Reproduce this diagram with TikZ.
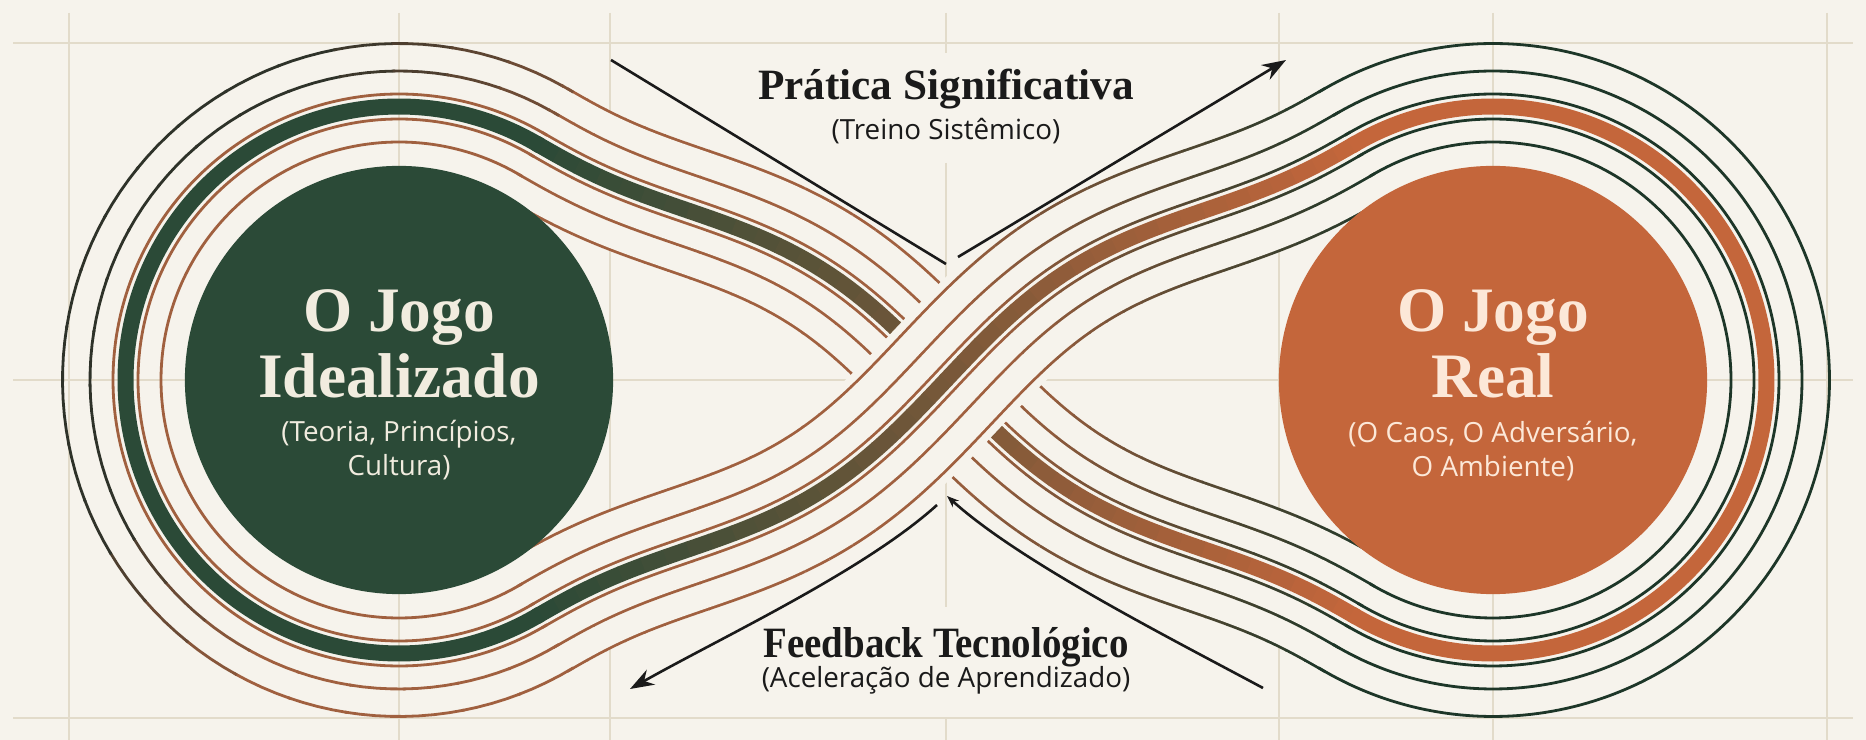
\documentclass[tikz,border=0pt]{standalone}
\usepackage{fontspec}
\setmainfont{Liberation Serif}
\newfontfamily\subfont{Open Sans}
\usetikzlibrary{arrows.meta}

\definecolor{bg}{HTML}{F6F3EC}
\definecolor{gridc}{HTML}{E2DBCA}
\definecolor{greenC}{HTML}{2B4A37}
\definecolor{orangeC}{HTML}{C4663B}
\definecolor{copperC}{HTML}{A0603F}
\definecolor{darkL}{HTML}{2E3229}
\definecolor{darkG}{HTML}{1D3628}
\definecolor{inkC}{HTML}{1A1A1A}
\definecolor{creamT}{HTML}{F1ECDF}
\definecolor{peachT}{HTML}{FCE8D8}

\tikzset{
  gridline/.style={draw=gridc, line width=0.02cm},
  inkline/.style={draw=inkC, line width=0.026cm},
  tiphead/.style={-{Stealth[length=0.24cm,width=0.17cm]}},
  smallhead/.style={-{Stealth[length=0.12cm,width=0.09cm]}},
  titletext/.style={font=\fontsize{12.3}{14}\selectfont\bfseries, text=inkC, inner sep=0pt, anchor=base},
  subtext/.style={font=\subfont\fontsize{7.9}{9}\selectfont, text=inkC, inner sep=0pt, anchor=base},
  circtitle/.style={font=\fontsize{18}{20}\selectfont\bfseries, inner sep=0pt, anchor=base},
  circsub/.style={font=\subfont\fontsize{7.9}{9}\selectfont, inner sep=0pt, anchor=base},
  bigcircle/.style={circle, minimum size=4.28cm, inner sep=0pt, draw=none},
}

% S-shaped crossing: normal displacement w(u) of the 30 degree line
\pgfmathdeclarefunction{vfun}{1}{\pgfmathparse{(#1/473.7)*(#1/473.7)}}
\pgfmathdeclarefunction{wfun}{1}{\pgfmathparse{0.3*#1*(1-vfun(#1))*(1-vfun(#1))*(1-vfun(#1))}}

% widths of the stacked strokes (px/100 = cm)
\def\wa{1.288cm}\def\wab{1.232cm}
\def\wb{0.738cm}\def\wbb{0.682cm}
\def\wc{0.278cm}\def\wcb{0.222cm}
\def\wband{0.16cm}
\def\thinw{0.028cm}

% crossing strand, one layer with colour gradient (#1 sign, #2 width, #3 start, #4 end)
\newcommand{\strandline}[4]{%
  \foreach \k in {0,...,39}{%
    \pgfmathsetmacro{\ua}{-473.7+23.685*\k}%
    \pgfmathsetmacro{\ub}{\ua+24.4}%
    \pgfmathtruncatemacro{\mixb}{max(0,min(100,100*((\k+0.5)/40-0.55)/0.45))}%
    \draw[line width=#2, draw=#4!\mixb!#3] plot[domain=\ua:\ub, samples=5]
      ({946+0.866*\x-0.5*wfun(\x)},{380+(#1)*(0.5*\x+0.866*wfun(\x))});
  }%
}
\newcommand{\strandband}[2]{%
  \foreach \k in {0,...,39}{%
    \pgfmathsetmacro{\ua}{-473.7+23.685*\k}%
    \pgfmathsetmacro{\ub}{\ua+24.4}%
    \pgfmathtruncatemacro{\mixa}{round(100*(\k+0.5)/40)}%
    \draw[line width=#2, draw=orangeC!\mixa!greenC] plot[domain=\ua:\ub, samples=5]
      ({946+0.866*\x-0.5*wfun(\x)},{380+(#1)*(0.5*\x+0.866*wfun(\x))});
  }%
}
\newcommand{\strandbg}[2]{%
  \draw[draw=bg, line width=#2] plot[domain=-476:476, samples=121]
    ({946+0.866*\x-0.5*wfun(\x)},{380+(#1)*(0.5*\x+0.866*wfun(\x))});
}
\newcommand{\strandall}[1]{%
  \strandline{#1}{\wa}{copperC}{darkG}%
  \strandbg{#1}{\wab}%
  \strandline{#1}{\wb}{copperC}{darkG}%
  \strandbg{#1}{\wbb}%
  \strandline{#1}{\wc}{copperC}{darkG}%
  \strandbg{#1}{\wcb}%
  \strandband{#1}{\wband}%
}
% one circular line of a loop: #1 centre x, #2 radius, #3 start, #4 end, #5 width, #6 colour
\newcommand{\loopline}[6]{%
  \draw[line width=#5, draw=#6] plot[domain=#3:#4, samples=200]
    ({#1+(#2)*cos(\x)},{380+(#2)*sin(\x)});
}

\begin{document}
\begin{tikzpicture}[x=0.01cm,y=-0.01cm]
\useasboundingbox (0,0) rectangle (1866,740);
\fill[bg] (0,0) rectangle (1866,740);

% grid
\foreach \gx in {69,399,610,1279,1493,1827}{\draw[gridline] (\gx,13) -- (\gx,740);}
\draw[gridline] (946,13) -- (946,53) (946,163) -- (946,607) (946,718) -- (946,740);
\foreach \gy in {43,380,718}{\draw[gridline] (13,\gy) -- (1853,\gy);}

% under strand (upper left to lower right)
\strandall{1}
% knockout for the over strand
\draw[draw=bg, line width=1.44cm] plot[domain=-200:200, samples=41]
  ({946+0.866*\x-0.5*wfun(\x)},{380-(0.5*\x+0.866*wfun(\x))});
% over strand (lower left to upper right)
\strandall{-1}

% left loop
\loopline{399}{261}{58.8}{301.2}{\thinw}{copperC}
\loopline{399}{238}{58.8}{301.2}{\thinw}{copperC}
\loopline{399}{210.5}{58.8}{301.2}{\thinw}{copperC}
\loopline{399}{286}{58.8}{301.2}{\thinw}{copperC}
\loopline{399}{273.5}{58.8}{301.2}{\wband}{greenC}
\foreach \th in {58.8,68.8,...,298.8}{%
  \pgfmathtruncatemacro{\mm}{max(0,min(100,min((\th-110)*2.5,100-(\th-250)*1.4)))}%
  \pgfmathsetmacro{\thb}{min(\th+10.5,301.2)}%
  \draw[line width=\thinw, draw=darkL!\mm!copperC] plot[domain=\th:\thb, samples=5]
    ({399+336.5*cos(\x)},{380+336.5*sin(\x)});
  \draw[line width=\thinw, draw=darkL!\mm!copperC] plot[domain=\th:\thb, samples=5]
    ({399+309*cos(\x)},{380+309*sin(\x)});
}
% right loop
\foreach \rr in {210.5,238,261,286,309,336.5}{%
  \loopline{1493}{\rr}{-121.2}{121.2}{\thinw}{darkG}
}
\loopline{1493}{273.5}{-121.2}{121.2}{\wband}{orangeC}

% circles
\node[bigcircle, fill=greenC] (ideal) at (399,380) {};
\node[bigcircle, fill=orangeC] (real) at (1493,380) {};

% circle texts
\node[circtitle, text=creamT] (idealA) at (399,332) {O Jogo};
\node[circtitle, text=creamT] (idealB) at (399,398) {Idealizado};
\node[circsub, text=creamT] (idealC) at (399,442) {(Teoria, Princípios,};
\node[circsub, text=creamT] (idealD) at (399,476) {Cultura)};
\node[circtitle, text=peachT] (realA) at (1493,332) {O Jogo};
\node[circtitle, text=peachT] (realB) at (1493,398) {Real};
\node[circsub, text=peachT] (realC) at (1493,443) {(O Caos, O Adversário,};
\node[circsub, text=peachT] (realD) at (1493,477) {O Ambiente)};

% top label and arrow
\node[titletext] (prat) at (946,100) {Prática Significativa};
\node[subtext] (treino) at (946,140) {(Treino Sistêmico)};
\coordinate (pa1) at (611,60);
\coordinate (pa2) at (946,264);
\coordinate (pa3) at (958,257);
\coordinate (pa4) at (1286,60);
\draw[inkline] (pa1) -- (pa2);
\draw[inkline, tiphead] (pa3) -- (pa4);

% bottom label and arrow
\node[titletext, xscale=0.9] (feed) at (946,657) {Feedback Tecnológico};
\node[subtext] (acel) at (946,688) {(Aceleração de Aprendizado)};
\coordinate (fb1) at (1263,688);
\coordinate (fb2) at (947,496);
\coordinate (fb3) at (937,505);
\coordinate (fb4) at (630,689);
\draw[inkline, smallhead] (fb1) .. controls (1168,637) and (1020,562) .. (fb2);
\draw[inkline, tiphead] (fb3) .. controls (864,571) and (722,637) .. (fb4);
\end{tikzpicture}
\end{document}
